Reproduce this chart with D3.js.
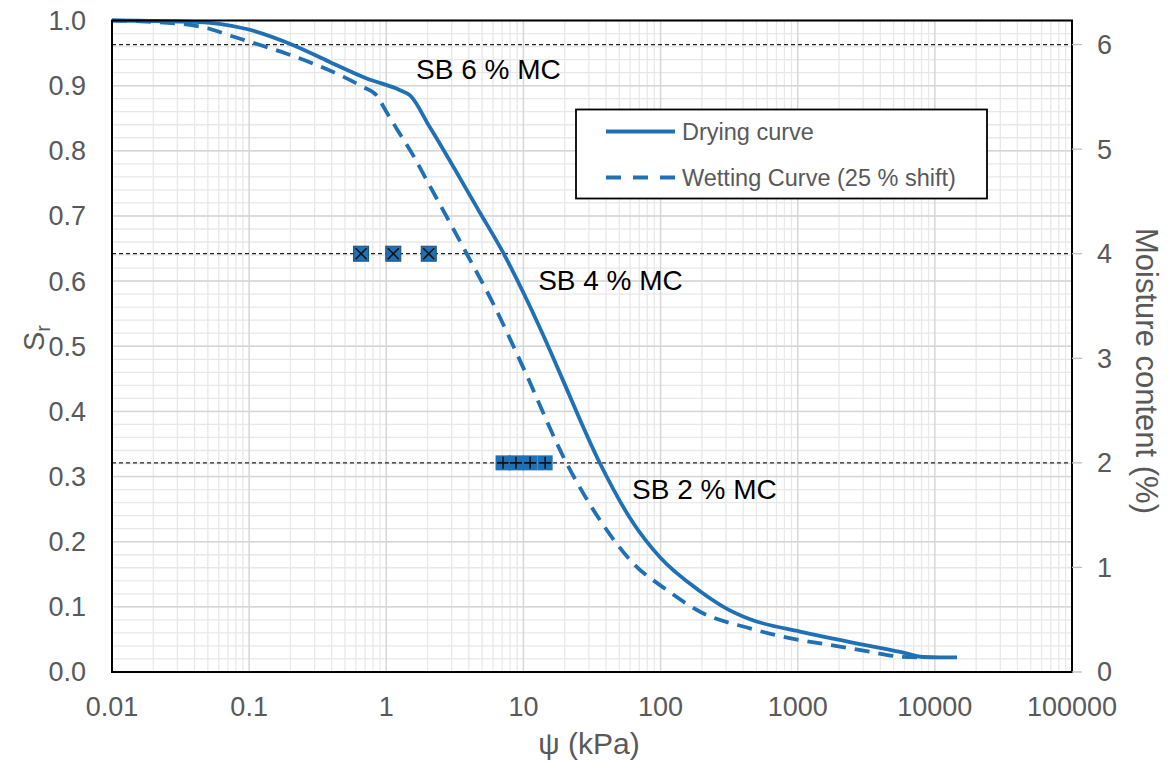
<!DOCTYPE html>
<html><head><meta charset="utf-8">
<script src="https://cdn.jsdelivr.net/npm/d3@7"></script>
<style>
body{margin:0;background:#fff;}
text{font-family:"Liberation Sans",Arial,sans-serif;}
</style></head>
<body><svg id="c" width="1168" height="762"></svg>
<script>
// ---- data ----
const dryPsi = [0.01,0.04,0.096,0.2,0.39,0.72,1.26,1.49,2.08,4.82,7.1,10.6,15.6,19.4,36.2,63,99,194,305,449,1040,2405,5570,8200,10900,14500];
const drySr  = [1.0,0.998,0.987,0.964,0.936,0.911,0.893,0.885,0.836,0.705,0.644,0.571,0.494,0.448,0.320,0.229,0.176,0.124,0.097,0.081,0.062,0.046,0.031,0.023,0.0225,0.0225];
const wetPsi = [0.01,0.031,0.052,0.072,0.114,0.188,0.292,0.46,0.676,0.851,1.007,1.19,1.57,1.97,3.86,6.0,9.93,20.7,36.2,63,111,194,449,782,2034,3365,5570,7800];
const wetSr  = [1.0,0.995,0.987,0.977,0.964,0.949,0.934,0.916,0.898,0.885,0.859,0.834,0.793,0.755,0.642,0.566,0.468,0.320,0.233,0.167,0.126,0.0925,0.067,0.054,0.039,0.031,0.0235,0.0225];
const refMC = [6,4,2];
const refLabels = ["SB 6 % MC","SB 4 % MC","SB 2 % MC"];
const refLabelPsi = [1.65,12.8,62];
const refLabelSr = [0.91,0.586,0.265];
const xMarkPsi = [0.655,1.125,2.04];
const xMarkMC = [4,4,4];
const plusMarkPsi = [7.1,8.83,11.2,14.4];
const plusMarkMC = [2,2,2,2];
const xTicks = [0.01,0.1,1,10,100,1000,10000,100000];
const xTickLabels = ["0.01","0.1","1","10","100","1000","10000","100000"];
const yTicks = [0,0.1,0.2,0.3,0.4,0.5,0.6,0.7,0.8,0.9,1.0];
const y2Ticks = [0,1,2,3,4,5,6];
const seriesNames = ["Drying curve","Wetting Curve (25 % shift)"];

// ---- layout ----
const L=112,R=1072,T=20.5,B=672;
const blue="#1f70b5", grey="#595959";
const svg=d3.select("#c");
const x=d3.scaleLog().domain([0.01,100000]).range([L,R]);
const y=d3.scaleLinear().domain([0,1]).range([B,T]);
const y2=d3.scaleLinear().domain([0,6.23]).range([B,T]);

// gridlines
const g=svg.append("g");
const minorX=[];
for(let e=-2;e<5;e++){for(let k=2;k<=9;k++)minorX.push(k*Math.pow(10,e));}
g.selectAll(".mx").data(minorX).enter().append("line")
 .attr("x1",d=>x(d)).attr("x2",d=>x(d)).attr("y1",T).attr("y2",B)
 .attr("stroke","#e8e8e8").attr("stroke-width",1.3);
const minorY=d3.range(0,51).map(i=>i*0.02);
g.selectAll(".my").data(minorY).enter().append("line")
 .attr("x1",L).attr("x2",R).attr("y1",d=>y(d)).attr("y2",d=>y(d))
 .attr("stroke","#e8e8e8").attr("stroke-width",1.3);
g.selectAll(".Mx").data(xTicks).enter().append("line")
 .attr("x1",d=>x(d)).attr("x2",d=>x(d)).attr("y1",T).attr("y2",B)
 .attr("stroke","#d6d6d6").attr("stroke-width",1.5);
g.selectAll(".My").data(yTicks).enter().append("line")
 .attr("x1",L).attr("x2",R).attr("y1",d=>y(d)).attr("y2",d=>y(d))
 .attr("stroke","#d6d6d6").attr("stroke-width",1.5);

// reference dashed lines
svg.selectAll(".ref").data(refMC).enter().append("line")
 .attr("x1",L).attr("x2",R).attr("y1",d=>y2(d)).attr("y2",d=>y2(d))
 .attr("stroke","#222").attr("stroke-width",1.2).attr("stroke-dasharray","4,3");

// curves
const line=d3.line().x(d=>x(d[0])).y(d=>y(d[1])).curve(d3.curveMonotoneX);
svg.append("path").datum(dryPsi.map((p,i)=>[p,drySr[i]]))
 .attr("d",line).attr("fill","none").attr("stroke",blue).attr("stroke-width",3.8);
svg.append("path").datum(wetPsi.map((p,i)=>[p,wetSr[i]]))
 .attr("d",line).attr("fill","none").attr("stroke",blue).attr("stroke-width",3.8)
 .attr("stroke-dasharray","15,9");

// markers
const ms=7.5;
const xm=svg.selectAll(".xm").data(xMarkPsi.map((p,i)=>[p,xMarkMC[i]])).enter().append("g")
 .attr("transform",d=>`translate(${x(d[0])},${y2(d[1])})`);
xm.append("rect").attr("x",-ms).attr("y",-ms).attr("width",2*ms).attr("height",2*ms)
 .attr("fill",blue).attr("stroke","#1a4f7e").attr("stroke-width",1);
xm.append("path").attr("d",`M${-ms+2},${-ms+2}L${ms-2},${ms-2}M${-ms+2},${ms-2}L${ms-2},${-ms+2}`)
 .attr("stroke","#111").attr("stroke-width",1.6);
const pm=svg.selectAll(".pm").data(plusMarkPsi.map((p,i)=>[p,plusMarkMC[i]])).enter().append("g")
 .attr("transform",d=>`translate(${x(d[0])},${y2(d[1])})`);
pm.append("rect").attr("x",-ms).attr("y",-ms).attr("width",2*ms).attr("height",2*ms)
 .attr("fill",blue);
pm.append("path").attr("d",`M${-ms+1.5},0L${ms-1.5},0M0,${-ms+1.5}L0,${ms-1.5}`)
 .attr("stroke","#111").attr("stroke-width",1.6);

// frame
svg.append("rect").attr("x",L).attr("y",T).attr("width",R-L).attr("height",B-T)
 .attr("fill","none").attr("stroke","#000").attr("stroke-width",2);

// axes labels
svg.selectAll(".xt").data(xTicks).enter().append("text")
 .attr("x",d=>x(d)).attr("y",716).attr("text-anchor","middle")
 .attr("font-size",27).attr("fill",grey).text((d,i)=>xTickLabels[i]);
svg.selectAll(".yt").data(yTicks).enter().append("text")
 .attr("x",86).attr("y",d=>y(d)).attr("dy","0.35em").attr("text-anchor","end")
 .attr("font-size",27).attr("fill",grey).text(d=>d.toFixed(1));
svg.selectAll(".y2k").data(y2Ticks).enter().append("line")
 .attr("x1",R).attr("x2",R+10).attr("y1",d=>y2(d)).attr("y2",d=>y2(d))
 .attr("stroke","#bfbfbf").attr("stroke-width",1.3);
svg.selectAll(".y2t").data(y2Ticks).enter().append("text")
 .attr("x",1097).attr("y",d=>y2(d)).attr("dy","0.35em").attr("text-anchor","start")
 .attr("font-size",27).attr("fill",grey).text(d=>d);

// titles
svg.append("text").attr("x",589).attr("y",754).attr("text-anchor","middle")
 .attr("font-size",30).attr("fill",grey).text("ψ (kPa)");
const st=svg.append("text").attr("transform","translate(44,338) rotate(-90)")
 .attr("text-anchor","middle").attr("font-size",29).attr("fill",grey);
st.append("tspan").text("S");
st.append("tspan").attr("font-size",20).attr("dy",6).text("r");
svg.append("text").attr("transform","translate(1136,371) rotate(90)")
 .attr("text-anchor","middle").attr("font-size",31).attr("fill",grey)
 .text("Moisture content (%)");

// SB labels
svg.selectAll(".sb").data(refLabels).enter().append("text")
 .attr("x",(d,i)=>x(refLabelPsi[i])).attr("y",(d,i)=>y(refLabelSr[i]))
 .attr("font-size",28).attr("fill","#000").text(d=>d);

// legend
const lg=svg.append("g");
lg.append("rect").attr("x",576).attr("y",109.5).attr("width",411).attr("height",89)
 .attr("fill","#fff").attr("stroke","#000").attr("stroke-width",1.8);
const ly=[131.5,177.5];
seriesNames.forEach((n,i)=>{
  lg.append("line").attr("x1",606).attr("x2",675).attr("y1",ly[i]).attr("y2",ly[i])
   .attr("stroke",blue).attr("stroke-width",3.8)
   .attr("stroke-dasharray",i==1?"15,12":null);
  lg.append("text").attr("x",682).attr("y",ly[i]).attr("dy","0.35em")
   .attr("font-size",23.5).attr("fill",grey).text(n);
});
</script></body></html>
